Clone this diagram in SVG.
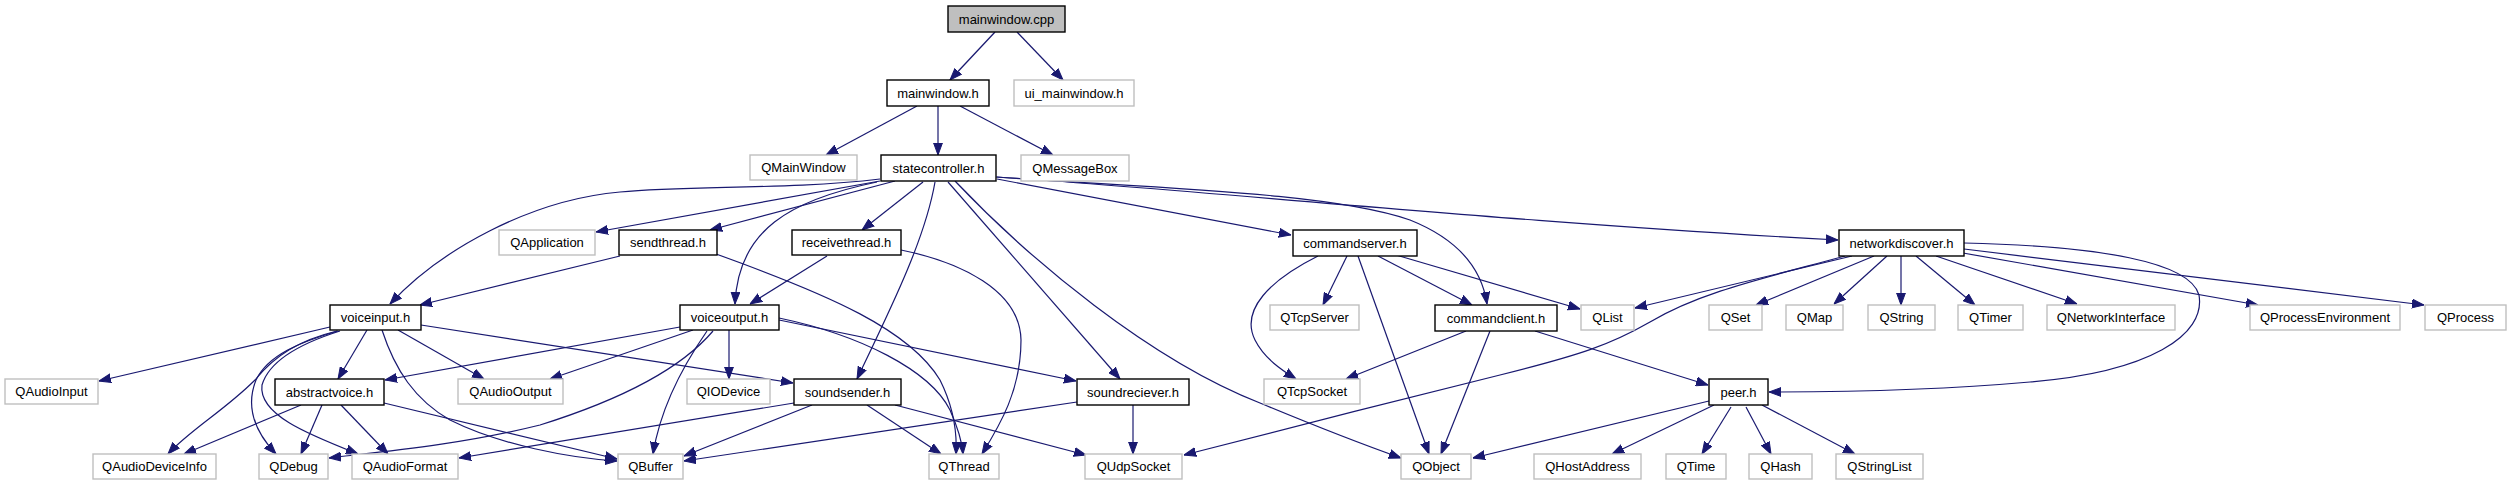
<svg xmlns="http://www.w3.org/2000/svg" width="2511" height="485" viewBox="0 0 2511 485">
<style>
.n rect{fill:#fff;stroke:#000;stroke-width:1.4}
.g rect{fill:#fff;stroke:#bfbfbf;stroke-width:1.4}
.r rect{fill:#bfbfbf;stroke:#000;stroke-width:1.4}
text{font-family:"Liberation Sans",Arial,sans-serif;font-size:13px;fill:#000;text-anchor:middle}
#edges path{fill:none;stroke:#191970;stroke-width:1.2;marker-end:url(#ah)}
</style>
<defs>
<marker id="ah" viewBox="0 0 12 10" refX="12" refY="5" markerWidth="12" markerHeight="10" markerUnits="userSpaceOnUse" orient="auto">
<path d="M0,0.6 L12,5 L0,9.4 z" fill="#191970" stroke="#191970" stroke-width="1"/>
</marker>
</defs>
<rect width="2511" height="485" fill="#fff"/>
<g id="edges">
<path d="M995,32 L950,80"/>
<path d="M1017,32 L1063,80"/>
<path d="M917,106 L826,155"/>
<path d="M938,106 L938,155"/>
<path d="M960,106 L1053,155"/>
<path d="M880,181 L596,232"/>
<path d="M895,181 L710,230"/>
<path d="M880,179 C790,190 690,185 620,192 C530,200 440,250 390,304"/>
<path d="M877,182 C790,200 738,230 735,304"/>
<path d="M923,182 L862,230"/>
<path d="M935,182 C925,240 890,310 857,379"/>
<path d="M948,182 L1120,379"/>
<path d="M955,181 C1030,260 1150,360 1260,403 C1320,428 1370,447 1401,458"/>
<path d="M997,179 L1291,235"/>
<path d="M996,177 C1150,188 1330,192 1410,220 C1460,240 1482,270 1487,304"/>
<path d="M997,177 C1200,190 1500,222 1838,240"/>
<path d="M620,256 L420,305"/>
<path d="M716,254 C830,295 910,330 940,380 C955,410 957,435 956,454"/>
<path d="M827,256 L750,304"/>
<path d="M901,250 C960,262 1020,290 1021,340 C1021,390 1000,425 982,454"/>
<path d="M330,327 L99,381"/>
<path d="M337,331 C300,340 275,355 255,380 C225,410 190,430 168,454"/>
<path d="M338,331 C300,342 268,355 256,380 C244,410 258,435 276,454"/>
<path d="M340,331 C305,342 270,358 262,385 C258,415 310,435 358,454"/>
<path d="M367,330 L338,379"/>
<path d="M398,330 L484,379"/>
<path d="M382,330 C395,370 415,400 450,420 C500,445 570,458 617,461"/>
<path d="M421,325 L793,383"/>
<path d="M680,327 L385,380"/>
<path d="M693,330 L550,379"/>
<path d="M729,330 L729,379"/>
<path d="M779,320 L1076,381"/>
<path d="M707,331 C680,370 660,410 653,454"/>
<path d="M713,331 C680,370 620,400 540,425 C460,445 380,452 329,458"/>
<path d="M779,318 C860,335 930,370 950,410 C958,428 962,440 963,454"/>
<path d="M301,405 L184,454"/>
<path d="M322,405 L301,454"/>
<path d="M341,405 L388,454"/>
<path d="M384,403 L617,459"/>
<path d="M794,403 L459,458"/>
<path d="M812,405 L684,456"/>
<path d="M867,405 L941,454"/>
<path d="M895,405 L1086,455"/>
<path d="M1077,402 L684,461"/>
<path d="M1133,405 L1133,454"/>
<path d="M1347,256 L1323,305"/>
<path d="M1318,256 C1270,280 1240,310 1255,340 C1265,360 1285,372 1296,379"/>
<path d="M1358,256 L1429,454"/>
<path d="M1378,256 L1472,305"/>
<path d="M1396,255 L1580,309"/>
<path d="M1466,331 L1346,379"/>
<path d="M1490,331 L1441,454"/>
<path d="M1535,331 L1708,385"/>
<path d="M1852,256 L1635,308"/>
<path d="M1845,256 C1765,278 1700,292 1650,322 C1610,345 1580,355 1500,375 C1400,400 1280,430 1184,455"/>
<path d="M1874,256 L1756,305"/>
<path d="M1887,256 L1834,304"/>
<path d="M1901,256 L1901,305"/>
<path d="M1916,256 L1975,305"/>
<path d="M1936,256 L2077,304"/>
<path d="M1963,253 L2258,305"/>
<path d="M1964,249 L2424,305"/>
<path d="M1964,243 C2100,246 2190,262 2199,295 C2206,335 2150,372 2030,382 C1940,390 1850,392 1769,392"/>
<path d="M1709,401 L1473,458"/>
<path d="M1714,405 L1612,454"/>
<path d="M1731,407 L1702,454"/>
<path d="M1746,407 L1771,454"/>
<path d="M1762,405 L1855,454"/>
</g>
<g id="n_mainwindow_cpp" class="r"><rect x="948" y="6" width="117" height="26"/><text x="1006.5" y="23.5">mainwindow.cpp</text></g>
<g id="n_mainwindow_h" class="n"><rect x="887" y="80" width="102" height="26"/><text x="938" y="97.5">mainwindow.h</text></g>
<g id="n_ui_mainwindow_h" class="g"><rect x="1014" y="80" width="120" height="26"/><text x="1074" y="97.5">ui_mainwindow.h</text></g>
<g id="n_QMainWindow" class="g"><rect x="750" y="155" width="107" height="25"/><text x="803.5" y="172">QMainWindow</text></g>
<g id="n_statecontroller_h" class="n"><rect x="881" y="155" width="115" height="26"/><text x="938.5" y="172.5">statecontroller.h</text></g>
<g id="n_QMessageBox" class="g"><rect x="1021" y="155" width="108" height="26"/><text x="1075" y="172.5">QMessageBox</text></g>
<g id="n_QApplication" class="g"><rect x="499" y="230" width="96" height="25"/><text x="547" y="247">QApplication</text></g>
<g id="n_sendthread_h" class="n"><rect x="619" y="230" width="98" height="25"/><text x="668" y="247">sendthread.h</text></g>
<g id="n_receivethread_h" class="n"><rect x="792" y="230" width="109" height="25"/><text x="846.5" y="247">receivethread.h</text></g>
<g id="n_commandserver_h" class="n"><rect x="1293" y="230" width="124" height="26"/><text x="1355" y="247.5">commandserver.h</text></g>
<g id="n_networkdiscover_h" class="n"><rect x="1839" y="230" width="125" height="26"/><text x="1901.5" y="247.5">networkdiscover.h</text></g>
<g id="n_voiceinput_h" class="n"><rect x="330" y="305" width="91" height="25"/><text x="375.5" y="322">voiceinput.h</text></g>
<g id="n_voiceoutput_h" class="n"><rect x="680" y="305" width="99" height="25"/><text x="729.5" y="322">voiceoutput.h</text></g>
<g id="n_QTcpServer" class="g"><rect x="1270" y="305" width="89" height="25"/><text x="1314.5" y="322">QTcpServer</text></g>
<g id="n_commandclient_h" class="n"><rect x="1435" y="305" width="122" height="26"/><text x="1496" y="322.5">commandclient.h</text></g>
<g id="n_QList" class="g"><rect x="1581" y="305" width="53" height="25"/><text x="1607.5" y="322">QList</text></g>
<g id="n_QSet" class="g"><rect x="1709" y="305" width="53" height="25"/><text x="1735.5" y="322">QSet</text></g>
<g id="n_QMap" class="g"><rect x="1786" y="305" width="57" height="25"/><text x="1814.5" y="322">QMap</text></g>
<g id="n_QString" class="g"><rect x="1868" y="305" width="67" height="25"/><text x="1901.5" y="322">QString</text></g>
<g id="n_QTimer" class="g"><rect x="1958" y="305" width="65" height="25"/><text x="1990.5" y="322">QTimer</text></g>
<g id="n_QNetworkInterface" class="g"><rect x="2047" y="305" width="128" height="25"/><text x="2111" y="322">QNetworkInterface</text></g>
<g id="n_QProcessEnvironment" class="g"><rect x="2250" y="305" width="150" height="25"/><text x="2325" y="322">QProcessEnvironment</text></g>
<g id="n_QProcess" class="g"><rect x="2425" y="305" width="81" height="25"/><text x="2465.5" y="322">QProcess</text></g>
<g id="n_QAudioInput" class="g"><rect x="5" y="379" width="93" height="25"/><text x="51.5" y="396">QAudioInput</text></g>
<g id="n_abstractvoice_h" class="n"><rect x="275" y="379" width="109" height="26"/><text x="329.5" y="396.5">abstractvoice.h</text></g>
<g id="n_QAudioOutput" class="g"><rect x="458" y="379" width="105" height="25"/><text x="510.5" y="396">QAudioOutput</text></g>
<g id="n_QIODevice" class="g"><rect x="687" y="379" width="83" height="25"/><text x="728.5" y="396">QIODevice</text></g>
<g id="n_soundsender_h" class="n"><rect x="794" y="379" width="107" height="26"/><text x="847.5" y="396.5">soundsender.h</text></g>
<g id="n_soundreciever_h" class="n"><rect x="1077" y="379" width="112" height="26"/><text x="1133" y="396.5">soundreciever.h</text></g>
<g id="n_QTcpSocket" class="g"><rect x="1264" y="379" width="96" height="25"/><text x="1312" y="396">QTcpSocket</text></g>
<g id="n_peer_h" class="n"><rect x="1709" y="379" width="59" height="26"/><text x="1738.5" y="396.5">peer.h</text></g>
<g id="n_QAudioDeviceInfo" class="g"><rect x="93" y="454" width="123" height="25"/><text x="154.5" y="471">QAudioDeviceInfo</text></g>
<g id="n_QDebug" class="g"><rect x="259" y="454" width="69" height="25"/><text x="293.5" y="471">QDebug</text></g>
<g id="n_QAudioFormat" class="g"><rect x="352" y="454" width="106" height="25"/><text x="405" y="471">QAudioFormat</text></g>
<g id="n_QBuffer" class="g"><rect x="618" y="454" width="65" height="25"/><text x="650.5" y="471">QBuffer</text></g>
<g id="n_QThread" class="g"><rect x="929" y="454" width="70" height="25"/><text x="964" y="471">QThread</text></g>
<g id="n_QUdpSocket" class="g"><rect x="1085" y="454" width="97" height="25"/><text x="1133.5" y="471">QUdpSocket</text></g>
<g id="n_QObject" class="g"><rect x="1401" y="454" width="70" height="25"/><text x="1436" y="471">QObject</text></g>
<g id="n_QHostAddress" class="g"><rect x="1534" y="454" width="107" height="25"/><text x="1587.5" y="471">QHostAddress</text></g>
<g id="n_QTime" class="g"><rect x="1666" y="454" width="60" height="25"/><text x="1696" y="471">QTime</text></g>
<g id="n_QHash" class="g"><rect x="1749" y="454" width="63" height="25"/><text x="1780.5" y="471">QHash</text></g>
<g id="n_QStringList" class="g"><rect x="1836" y="454" width="87" height="25"/><text x="1879.5" y="471">QStringList</text></g>
</svg>
